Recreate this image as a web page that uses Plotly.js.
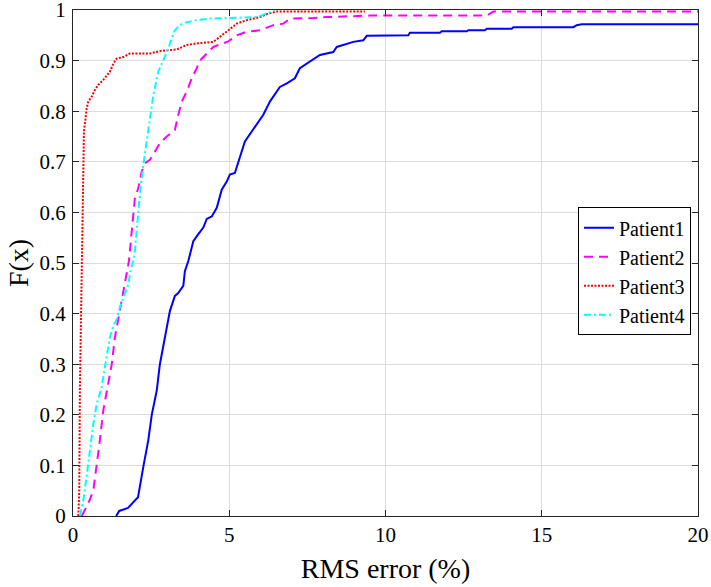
<!DOCTYPE html>
<html>
<head>
<meta charset="utf-8">
<script src="https://cdn.plot.ly/plotly-3.0.1.min.js"></script>
<style>
  html, body { margin: 0; padding: 0; background: #fff; }
  #chart { width: 711px; height: 587px; }
</style>
</head>
<body>
<div id="chart"></div>
<script>
const p1x = [1.38, 1.48, 1.76, 2.08, 2.25, 2.41, 2.52, 2.68, 2.78, 3.0, 3.1, 3.26, 3.36, 3.53, 3.58, 3.69, 3.85, 4.01, 4.17, 4.28, 4.44, 4.6, 4.76, 4.92, 5.02, 5.18, 5.34, 5.5, 5.72, 5.88, 6.09, 6.3, 6.62, 6.84, 7.1, 7.26, 7.58, 7.9, 8.33, 8.44, 8.97, 9.29, 9.4, 10.73, 10.78, 11.74, 11.8, 12.6, 12.65, 13.18, 13.24, 14.04, 14.09, 16.01, 16.12, 16.28, 20];
const p1y = [0, 0.01, 0.016, 0.037, 0.097, 0.15, 0.2, 0.248, 0.3, 0.373, 0.405, 0.435, 0.44, 0.455, 0.484, 0.504, 0.543, 0.557, 0.57, 0.587, 0.592, 0.609, 0.645, 0.661, 0.675, 0.678, 0.707, 0.74, 0.76, 0.775, 0.793, 0.819, 0.848, 0.855, 0.865, 0.885, 0.898, 0.911, 0.917, 0.927, 0.937, 0.94, 0.949, 0.95, 0.955, 0.955, 0.958, 0.958, 0.96, 0.96, 0.963, 0.963, 0.966, 0.966, 0.97, 0.972, 0.972];

const p2x = [0.28, 0.49, 0.65, 0.76, 0.86, 0.97, 1.08, 1.13, 1.24, 1.34, 1.5, 1.61, 1.72, 1.79, 1.88, 1.98, 2.09, 2.2, 2.3, 2.46, 2.62, 2.78, 3.0, 3.21, 3.26, 3.37, 3.48, 3.64, 3.8, 3.96, 4.06, 4.28, 4.49, 4.7, 4.97, 5.24, 5.56, 5.98, 6.41, 6.73, 6.94, 7.69, 8.12, 9.5, 13.24, 13.45, 20];
const p2y = [0, 0.025, 0.05, 0.097, 0.15, 0.209, 0.248, 0.261, 0.3, 0.353, 0.405, 0.445, 0.484, 0.504, 0.563, 0.628, 0.648, 0.681, 0.697, 0.704, 0.72, 0.737, 0.75, 0.76, 0.763, 0.793, 0.819, 0.839, 0.865, 0.885, 0.9, 0.914, 0.927, 0.932, 0.938, 0.95, 0.957, 0.96, 0.97, 0.973, 0.983, 0.984, 0.986, 0.989, 0.989, 0.997, 0.997];

const p3x = [0.17, 0.2, 0.22, 0.28, 0.33, 0.35, 0.38, 0.44, 0.49, 0.6, 0.7, 0.81, 0.97, 1.08, 1.18, 1.29, 1.4, 1.61, 1.82, 2.46, 2.78, 3.32, 3.64, 3.96, 4.49, 4.7, 4.92, 5.24, 5.56, 5.98, 6.25, 6.52, 9.34];
const p3y = [0, 0.05, 0.25, 0.5, 0.72, 0.76, 0.775, 0.806, 0.819, 0.829, 0.842, 0.852, 0.862, 0.871, 0.878, 0.894, 0.904, 0.907, 0.914, 0.914, 0.919, 0.922, 0.931, 0.934, 0.937, 0.947, 0.957, 0.973, 0.98, 0.986, 0.993, 0.997, 0.997];

const p4x = [0.22, 0.33, 0.49, 0.65, 0.76, 0.92, 1.02, 1.13, 1.18, 1.29, 1.4, 1.5, 1.66, 1.77, 1.84, 1.93, 1.98, 2.04, 2.09, 2.16, 2.25, 2.34, 2.41, 2.46, 2.57, 2.66, 2.73, 2.84, 2.94, 3.05, 3.16, 3.26, 3.42, 3.58, 3.96, 4.38, 4.92, 5.88, 6.2, 6.45];
const p4y = [0, 0.031, 0.104, 0.182, 0.222, 0.255, 0.294, 0.337, 0.353, 0.376, 0.389, 0.412, 0.438, 0.458, 0.484, 0.504, 0.524, 0.563, 0.609, 0.648, 0.694, 0.734, 0.76, 0.793, 0.832, 0.858, 0.878, 0.894, 0.907, 0.924, 0.944, 0.96, 0.97, 0.975, 0.98, 0.983, 0.984, 0.986, 0.993, 1.0];

const seriesNames = ['Patient1', 'Patient2', 'Patient3', 'Patient4'];
const xTicks = [0, 5, 10, 15, 20];
const yTicks = [0, 0.1, 0.2, 0.3, 0.4, 0.5, 0.6, 0.7, 0.8, 0.9, 1];
const yTickText = ['0', '0.1', '0.2', '0.3', '0.4', '0.5', '0.6', '0.7', '0.8', '0.9', '1'];

const serif = 'Liberation Serif';

function line(x, y, name, color, dash) {
  return {
    type: 'scatter',
    mode: 'lines',
    x, y, name,
    cliponaxis: false,
    line: { color, width: 2, dash }
  };
}

const traces = [
  line(p1x, p1y, seriesNames[0], '#0000ff', 'solid'),
  line(p2x, p2y, seriesNames[1], '#ff00ff', '9px,6px'),
  line(p3x, p3y, seriesNames[2], '#ff0000', '2px,1.5px'),
  line(p4x, p4y, seriesNames[3], '#00ffff', '7px,3px,2px,3px')
];

function axis(extra) {
  return Object.assign({
    showline: true,
    linecolor: '#262626',
    linewidth: 1,
    mirror: 'ticks',
    ticks: 'inside',
    ticklen: 6,
    tickcolor: '#262626',
    showgrid: true,
    gridcolor: '#dcdcdc',
    gridwidth: 1,
    zeroline: false,
    ticklabeloverflow: 'allow',
    tickfont: { family: serif, size: 21, color: '#000' }
  }, extra);
}

const layout = {
  width: 711,
  height: 587,
  paper_bgcolor: '#fff',
  plot_bgcolor: '#fff',
  margin: { l: 73, r: 13, t: 10, b: 71 },
  font: { family: serif, color: '#000' },
  showlegend: true,
  legend: {
    x: 0.808,
    xanchor: 'left',
    y: 0.61,
    yanchor: 'top',
    bgcolor: '#fff',
    bordercolor: '#000',
    borderwidth: 1,
    itemwidth: 30,
    font: { family: serif, size: 20, color: '#000' },
    tracegroupgap: 0
  },
  xaxis: axis({
    range: [0, 20],
    tickvals: xTicks,
    ticktext: xTicks.map(String),
    title: { text: 'RMS error (%)', font: { family: serif, size: 28, color: '#000' }, standoff: 12 }
  }),
  yaxis: axis({
    range: [0, 1],
    tickvals: yTicks,
    ticktext: yTickText,
    ticklabelstandoff: 2,
    title: { text: 'F(x)', font: { family: serif, size: 28, color: '#000' }, standoff: 2 }
  })
};

Plotly.newPlot('chart', traces, layout, { staticPlot: true, displayModeBar: false });
</script>
</body>
</html>
